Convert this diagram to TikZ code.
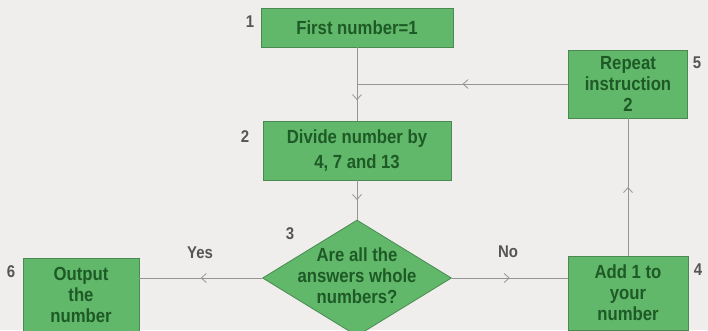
\documentclass[tikz,border=0pt]{standalone}
\usepackage{fontspec}
\setmainfont{Liberation Sans}
\newfontfamily\boxfont[FakeStretch=0.88]{Liberation Sans}
\usetikzlibrary{shapes.geometric,arrows.meta,decorations.markings}
\definecolor{bg}{HTML}{EFEEEC}
\definecolor{boxgreen}{HTML}{62B86A}
\definecolor{boxedge}{HTML}{4A8A52}
\definecolor{txtgreen}{HTML}{1D5A26}
\definecolor{linegrey}{HTML}{959595}
\definecolor{numgrey}{HTML}{555555}
\begin{document}
\begin{tikzpicture}[x=1pt,y=-1pt,
  box/.style={draw=boxedge, line width=0.8pt, fill=boxgreen, text=txtgreen,
    font=\boxfont\fontsize{19}{21}\selectfont\bfseries, align=center, inner sep=0pt},
  qtxt/.style={text=txtgreen, font=\boxfont\fontsize{19}{21}\selectfont\bfseries, align=center, inner sep=0pt},
  flow/.style={draw=linegrey, line width=0.8pt, postaction={decorate},
    decoration={markings, mark=at position #1 with {\arrow[linegrey]{Straight Barb[length=5pt,width=9pt]}}}},
  flow/.default=0.5,
  num/.style={text=numgrey, font=\boxfont\fontsize{17}{18}\selectfont\bfseries, inner sep=0pt},
  yn/.style={text=numgrey, font=\boxfont\fontsize{17}{18}\selectfont\bfseries, inner sep=0pt}]
\fill[bg] (0,0) rectangle (708,330);
\useasboundingbox (0,0) rectangle (708,330);
\clip (0,0) rectangle (708,330);

\node[box, minimum width=192pt, minimum height=39pt] (b1) at (357,27.5) {First number=1};
\node[box, minimum width=188pt, minimum height=59pt, font=\boxfont\fontsize{19}{25}\selectfont\bfseries] (b2) at (357,150.5) {Divide number by\\4, 7 and 13};
\node[box, minimum width=119pt, minimum height=68pt] (b5) at (628,84) {Repeat\\instruction\\2};
\node[box, minimum width=120pt, minimum height=74pt] (b4) at (628,293) {Add 1 to\\your\\number};
\node[box, minimum width=116pt, minimum height=74pt] (b6) at (81,295) {Output\\the\\number};
\node[diamond, draw=boxedge, line width=0.8pt, fill=boxgreen, minimum width=189pt, minimum height=116pt, inner sep=0pt] (q) at (357,278) {};
\node[qtxt] (qt) at (357,276) {Are all the\\answers whole\\numbers?};

\coordinate (j) at (357,84);
\draw[flow=0.72] (b1.south) -- (b2.north);
\draw[flow] (b5.west) -- (j);
\draw[flow] (b2.south) -- (q.north);
\draw[flow] (b4.north) -- (b5.south);
\draw[flow] (q.east) -- (q.east -| b4.west);
\draw[flow] (q.west) -- (q.west -| b6.east);

\node[num] (n1) at (250,22) {1};
\node[num] (n2) at (245,137) {2};
\node[num] (n3) at (290,234) {3};
\node[num] (n4) at (698,270) {4};
\node[num] (n5) at (697,63) {5};
\node[num] (n6) at (11,272) {6};
\node[yn] (yes) at (200,253) {Yes};
\node[yn] (no) at (508,252) {No};
\end{tikzpicture}
\end{document}
